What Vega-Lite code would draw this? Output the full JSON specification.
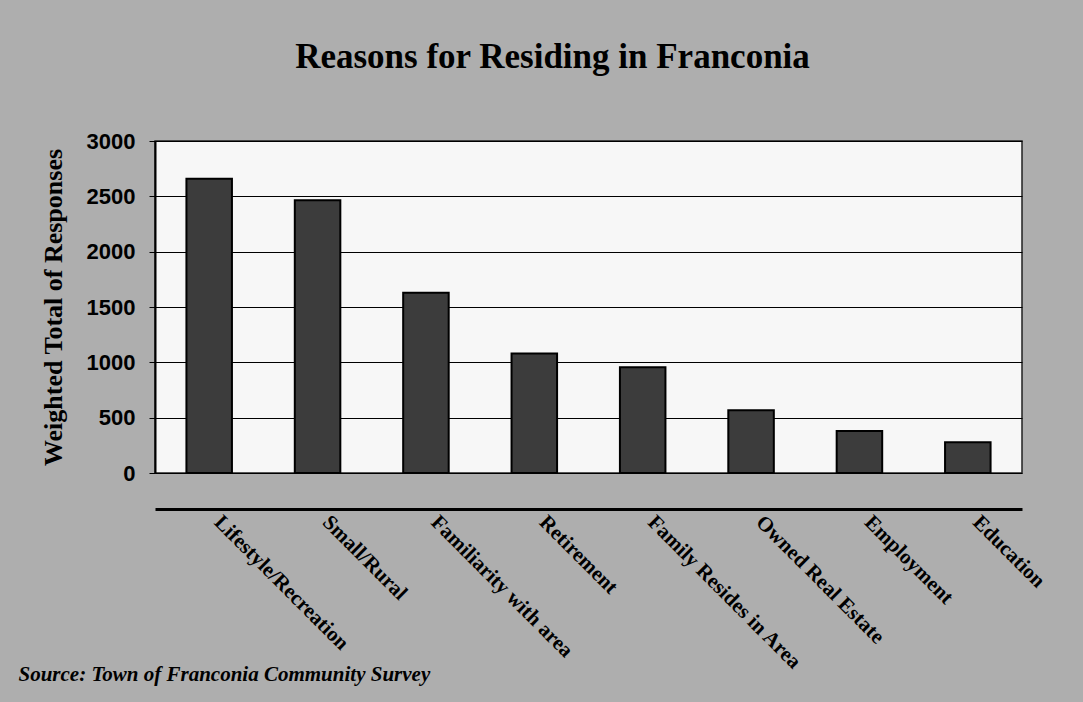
{
  "$schema": "https://vega.github.io/schema/vega-lite/v6.json",
  "autosize": "none",
  "width": 867,
  "height": 332,
  "padding": {"left": 155, "top": 141, "right": 61, "bottom": 229},
  "background": "#aeaeae",
  "title": {
    "text": "Reasons for Residing in Franconia",
    "font": "Liberation Serif",
    "fontSize": 35,
    "fontWeight": "bold",
    "color": "#000000",
    "offset": 55,
    "dx": -36
  },
  "data": {
    "values": [
      {"reason": "Lifestyle/Recreation", "responses": 2660},
      {"reason": "Small/Rural", "responses": 2465},
      {"reason": "Familiarity with area", "responses": 1628},
      {"reason": "Retirement", "responses": 1080},
      {"reason": "Family Resides in Area", "responses": 955},
      {"reason": "Owned Real Estate", "responses": 568},
      {"reason": "Employment", "responses": 380},
      {"reason": "Education", "responses": 277}
    ]
  },
  "mark": {"type": "bar", "color": "#3c3c3c", "stroke": "#000000", "strokeWidth": 2},
  "encoding": {
    "x": {
      "field": "reason",
      "type": "nominal",
      "sort": null,
      "scale": {"paddingInner": 0.58, "paddingOuter": 0.29},
      "axis": {
        "offset": 36,
        "title": "Source:  Town of Franconia Community Survey",
        "titleFont": "Liberation Serif",
        "titleFontSize": 21,
        "titleFontWeight": "bold",
        "titleFontStyle": "italic",
        "titleColor": "#000000",
        "titleAnchor": "start",
        "titleAlign": "left",
        "titleBaseline": "alphabetic",
        "titleX": -137,
        "titleY": 171,
        "labelAngle": 45,
        "labelAlign": "left",
        "labelBaseline": "top",
        "labelPadding": 2,
        "labelOffset": 16,
        "labelFont": "Liberation Serif",
        "labelFontSize": 21,
        "labelFontWeight": "bold",
        "labelColor": "#000000",
        "labelLimit": 400,
        "ticks": false,
        "domainColor": "#000000",
        "domainWidth": 3
      }
    },
    "y": {
      "field": "responses",
      "type": "quantitative",
      "scale": {"domain": [0, 3000], "nice": false},
      "axis": {
        "title": "Weighted Total of Responses",
        "titleFont": "Liberation Serif",
        "titleFontSize": 26,
        "titleFontWeight": "bold",
        "titleColor": "#000000",
        "titlePadding": 20,
        "values": [0, 500, 1000, 1500, 2000, 2500, 3000],
        "format": "d",
        "labelFont": "Liberation Sans",
        "labelFontSize": 22,
        "labelFontWeight": "bold",
        "labelColor": "#000000",
        "labelPadding": 14,
        "tickColor": "#000000",
        "tickSize": 6,
        "domainColor": "#000000",
        "domainWidth": 2,
        "grid": true,
        "gridColor": "#000000",
        "gridWidth": 1.2
      }
    }
  },
  "config": {
    "view": {"fill": "#f7f7f7", "stroke": "#222222", "strokeWidth": 1.5}
  }
}
